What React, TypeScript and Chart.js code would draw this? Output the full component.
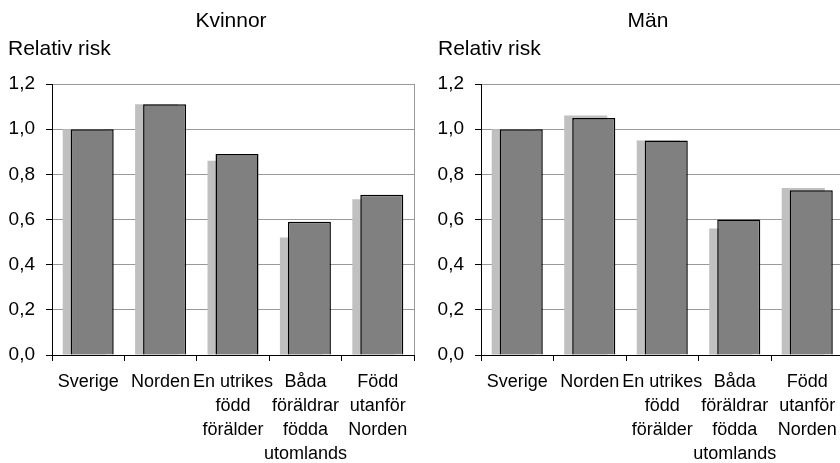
import React, { useEffect, useRef } from 'react';
import { Chart, registerables } from 'chart.js';

Chart.register(...registerables);

// Categories (multi-line labels)
const categories: string[][] = [
  ['Sverige'],
  ['Norden'],
  ['En utrikes', 'född', 'förälder'],
  ['Båda', 'föräldrar', 'födda', 'utomlands'],
  ['Född', 'utanför', 'Norden'],
];

// Kvinnor
const kvinnorLight = [1.0, 1.11, 0.86, 0.52, 0.69];
const kvinnorDark = [1.0, 1.11, 0.89, 0.59, 0.71];

// Män
const manLight = [1.0, 1.06, 0.95, 0.56, 0.74];
const manDark = [1.0, 1.05, 0.95, 0.6, 0.73];

const yMin = 0;
const yMax = 1.2;
const yStep = 0.2;

const FONT = '"Liberation Sans", Arial, sans-serif';

type PanelOpts = {
  title: string;
  light: number[];
  dark: number[];
  canvasWidth: number;
  axisWidth: number;
  padRight: number;
  titleX: number;
  subX: number;
};

function makeConfig(o: PanelOpts): any {
  const textPlugin = {
    id: 'panelText',
    afterDraw(chart: any) {
      const ctx = chart.ctx;
      ctx.save();
      ctx.fillStyle = '#000';
      ctx.font = `21px ${FONT}`;
      ctx.textBaseline = 'alphabetic';
      ctx.textAlign = 'center';
      ctx.fillText(o.title, o.titleX, 27);
      ctx.textAlign = 'left';
      ctx.fillText('Relativ risk', o.subX, 55);
      ctx.restore();
    },
  };

  return {
    type: 'bar',
    data: {
      labels: categories,
      datasets: [
        // empty placeholder that fixes the group slot of stack 'a' first
        { label: '', data: categories.map(() => null), stack: 'a', order: -1 },
        {
          label: 'dark',
          data: o.dark,
          stack: 'b',
          order: 0,
          backgroundColor: '#808080',
          borderColor: '#000000',
          borderWidth: 1.5,
        },
        {
          label: 'light',
          data: o.light,
          stack: 'a',
          order: 1,
          backgroundColor: '#C0C0C0',
          borderWidth: 0,
        },
      ],
    },
    options: {
      animation: false,
      responsive: false,
      maintainAspectRatio: false,
      layout: { padding: { top: 84, left: 0, right: o.padRight, bottom: 0 } },
      datasets: { bar: { categoryPercentage: 0.221, barPercentage: 5.375 } },
      plugins: {
        legend: { display: false },
        tooltip: { enabled: false },
        title: { display: false },
      },
      scales: {
        x: {
          offset: true,
          grid: {
            offset: true,
            drawOnChartArea: true,
            color: (c: any) => (c.index === undefined ? '#999999' : 'rgba(0,0,0,0)'),
            tickColor: '#000000',
            tickLength: 6,
            lineWidth: 1,
          },
          border: { color: '#000000', width: 1 },
          ticks: {
            autoSkip: false,
            maxRotation: 0,
            minRotation: 0,
            color: '#000000',
            padding: 9.5,
            font: { family: FONT, size: 18, lineHeight: 1.333 },
          },
          afterFit: (s: any) => {
            s.height = 108;
          },
        },
        y: {
          min: yMin,
          max: yMax,
          ticks: {
            stepSize: yStep,
            color: '#000000',
            padding: 11,
            font: { family: FONT, size: 19 },
            callback: (v: any) => Number(v).toFixed(1).replace('.', ','),
          },
          grid: { color: '#999999', tickColor: '#000000', tickLength: 6, lineWidth: 1 },
          border: { color: '#000000', width: 1 },
          afterFit: (s: any) => {
            s.width = o.axisWidth;
          },
        },
      },
    },
    plugins: [textPlugin],
  };
}

function Panel(props: { left: number; opts: PanelOpts }) {
  const ref = useRef<HTMLCanvasElement | null>(null);
  useEffect(() => {
    if (!ref.current) return;
    const chart = new Chart(ref.current, makeConfig(props.opts));
    return () => chart.destroy();
  }, []);
  const w = props.opts.canvasWidth;
  return (
    <div style={{ position: 'absolute', left: props.left, top: 0, width: w, height: 463 }}>
      <canvas ref={ref} width={w} height={463} style={{ width: w, height: 463, display: 'block' }} />
    </div>
  );
}

export default function App() {
  return (
    <div
      style={{
        position: 'fixed',
        left: 0,
        top: 0,
        width: 840,
        height: 463,
        overflow: 'hidden',
        background: '#ffffff',
      }}
    >
      <Panel
        left={0}
        opts={{
          title: 'Kvinnor',
          light: kvinnorLight,
          dark: kvinnorDark,
          canvasWidth: 420,
          axisWidth: 52,
          padRight: 6,
          titleX: 231,
          subX: 8,
        }}
      />
      <Panel
        left={420}
        opts={{
          title: 'Män',
          light: manLight,
          dark: manDark,
          canvasWidth: 430,
          axisWidth: 61,
          padRight: 6.5,
          titleX: 228,
          subX: 18,
        }}
      />
    </div>
  );
}
